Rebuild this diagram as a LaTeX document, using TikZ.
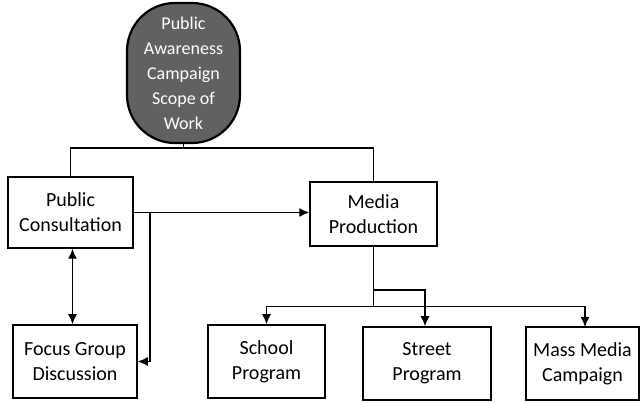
\documentclass[tikz,border=0pt]{standalone}
\usepackage{fontspec}
\setmainfont{Carlito}
\usetikzlibrary{arrows.meta}
\begin{document}
\begin{tikzpicture}[x=1pt,y=-1pt,
  box/.style={draw,line width=1.5pt,rectangle,align=center,inner sep=0pt,
    font=\fontsize{20}{25}\selectfont},
  link/.style={line width=1.4pt},
  arr/.style={link,-{Latex[length=10pt,width=9pt]}},
  darr/.style={link,{Latex[length=10pt,width=9pt]}-{Latex[length=10pt,width=9pt]}}]
\useasboundingbox (0,0) rectangle (641,403);

% scope of work badge
\node[draw,line width=2.2pt,fill=black!62,text=white,rounded corners=48pt,
  minimum width=113pt,minimum height=140pt,inner sep=0pt,align=center,
  font=\fontsize{18}{25}\selectfont] (sow) at (183.5,73)
  {Public\\Awareness\\Campaign\\Scope of\\Work};

% first level
\node[box,minimum width=125pt,minimum height=71pt] (pc) at (70.5,212.5) {Public\\Consultation};
\node[box,minimum width=127pt,minimum height=64pt] (mp) at (373.5,214) {Media\\Production};

% second level
\node[box,minimum width=124pt,minimum height=73pt] (fg) at (75,361.5) {Focus Group\\Discussion};
\node[box,minimum width=117pt,minimum height=73pt] (sp) at (266.5,361.5) {School\\Program};
\node[box,minimum width=128pt,minimum height=73pt] (st) at (427,363.5) {Street\\Program};
\node[box,minimum width=113pt,minimum height=73pt] (mm) at (582.5,363.5) {Mass Media\\Campaign};

% top distribution line
\coordinate (topL) at (pc.north |- 0,148);
\coordinate (topR) at (mp.north |- 0,148);
\draw[link] (sow.south) -- (sow.south |- topL);
\draw[link] (pc.north) -- (topL) -- (topR) -- (mp.north);

% consultation links
\draw[arr] (pc.east) -- (pc.east -| mp.west);
\coordinate (br) at (150,212.5);
\draw[arr] (br) |- (fg.east);
\draw[darr] ([xshift=2pt]pc.south) -- ([xshift=2pt]pc.south |- fg.north);

% media production branches
\coordinate (bus) at (mp.south |- 0,306.5);
\coordinate (loopL) at (mp.south |- 0,290);
\coordinate (loopR) at (425,290);
\draw[link] (mp.south) -- (bus);
\draw[link] (loopL) -- (loopR) -- (loopR |- bus);
\draw[link] (sp.north |- bus) -- (585,306.5);
\draw[arr] (sp.north |- bus) -- (sp.north);
\draw[arr] (loopR |- bus) -- (loopR |- st.north);
\draw[arr] (585,306.5) -- (585,327);
\end{tikzpicture}
\end{document}
